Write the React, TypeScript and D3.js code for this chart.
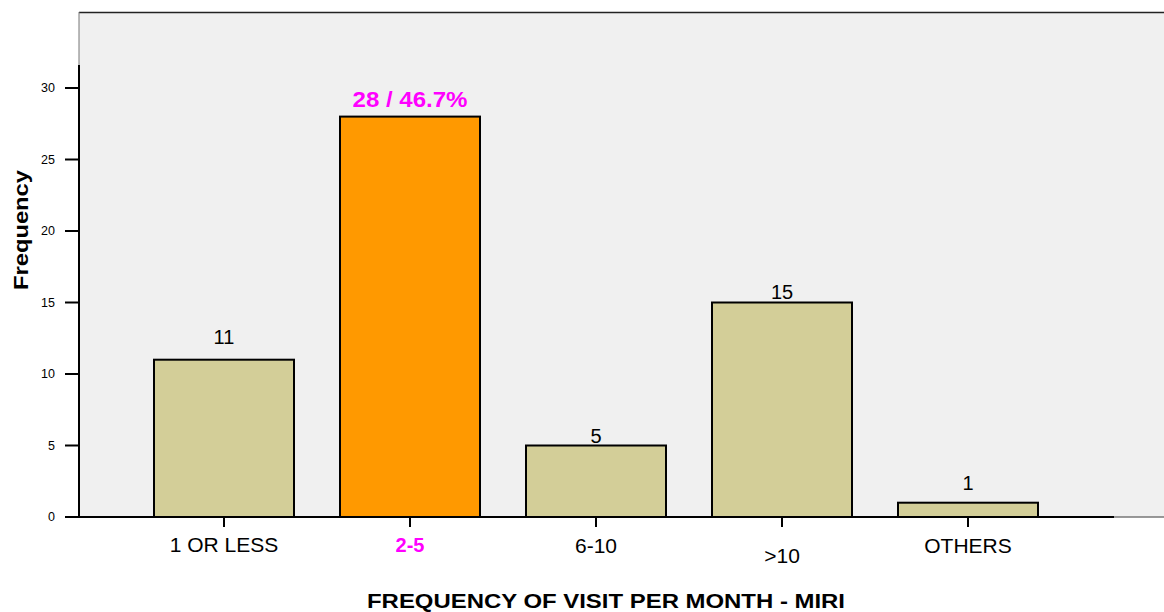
import React from "react";
import * as d3 from "d3";

const categories = ["1 OR LESS", "2-5", "6-10", ">10", "OTHERS"];
const counts = [11, 28, 5, 15, 1];
const valueLabels = ["11", "28 / 46.7%", "5", "15", "1"];
const highlighted = [false, true, false, false, false];
const yTicks = [0, 5, 10, 15, 20, 25, 30];

// layout-only tweaks (as in the original SPSS output)
const valueLabelGap = [16, 10, 2.5, 3.5, 12.5];
const tickLabelDrop = [0, 0, 1, 11, 1];

const W = 1164;
const H = 612;
const plotLeft = 79;
const plotTop = 12;
const zeroY = 517;

export default function App() {
  const y = d3.scaleLinear().domain([0, 30]).range([zeroY, 88]);
  const x = d3
    .scaleBand<string>()
    .domain(categories)
    .range([131, 1061])
    .paddingInner(46 / 186)
    .paddingOuter(23 / 186);
  const bw = x.bandwidth();

  return (
    <svg
      width={W}
      height={H}
      style={{ position: "absolute", left: 0, top: 0, background: "#fff" }}
      fontFamily="'Liberation Sans', Arial, sans-serif"
    >
      <rect x={plotLeft} y={plotTop} width={W - plotLeft} height={zeroY - plotTop} fill="#f0f0f0" />
      <line x1={plotLeft} x2={W} y1={plotTop + 0.5} y2={plotTop + 0.5} stroke="#222" strokeWidth={1.5} />
      <line x1={plotLeft} x2={plotLeft} y1={plotTop} y2={y(31.6)} stroke="#777" strokeWidth={1} />
      <line x1={plotLeft} x2={W} y1={zeroY} y2={zeroY} stroke="#777" strokeWidth={1.5} />

      {categories.map((c, i) => (
        <rect
          key={c}
          x={x(c)!}
          y={y(counts[i])}
          width={bw}
          height={zeroY - y(counts[i])}
          fill={highlighted[i] ? "#ff9900" : "#d3ce98"}
          stroke="#000"
          strokeWidth={2}
        />
      ))}

      {/* y axis */}
      <line x1={plotLeft} x2={plotLeft} y1={y(31.6)} y2={zeroY + 1} stroke="#000" strokeWidth={2} />
      {yTicks.map((t) => (
        <g key={t}>
          <line x1={65} x2={plotLeft} y1={y(t)} y2={y(t)} stroke="#000" strokeWidth={2} />
          <text x={55} y={y(t)} dy="0.35em" textAnchor="end" fontSize={12.5} fill="#000">
            {t}
          </text>
        </g>
      ))}

      {/* x axis */}
      <line x1={plotLeft} x2={1114} y1={zeroY} y2={zeroY} stroke="#000" strokeWidth={2} />
      {categories.map((c, i) => {
        const cx = x(c)! + bw / 2;
        return (
          <g key={c}>
            <line x1={cx} x2={cx} y1={zeroY} y2={zeroY + 10} stroke="#000" strokeWidth={2} />
            <text
              x={cx}
              y={552 + tickLabelDrop[i]}
              textAnchor="middle"
              fontSize={highlighted[i] ? 20 : 21}
              fontWeight={highlighted[i] ? "bold" : "normal"}
              fill={highlighted[i] ? "#ff00ff" : "#000"}
            >
              {c}
            </text>
          </g>
        );
      })}

      {/* value labels */}
      {categories.map((c, i) => {
        const cx = x(c)! + bw / 2;
        return (
          <text
            key={c}
            x={cx}
            y={y(counts[i]) - valueLabelGap[i]}
            textAnchor="middle"
            fontSize={highlighted[i] ? 22 : 20}
            fontWeight={highlighted[i] ? "bold" : "normal"}
            fill={highlighted[i] ? "#ff00ff" : "#000"}
            textLength={highlighted[i] ? 115 : undefined}
            lengthAdjust="spacingAndGlyphs"
          >
            {valueLabels[i]}
          </text>
        );
      })}

      {/* titles */}
      <text
        x={606}
        y={608}
        textAnchor="middle"
        fontSize={20}
        fontWeight="bold"
        fill="#000"
        textLength={478}
        lengthAdjust="spacingAndGlyphs"
      >
        FREQUENCY OF VISIT PER MONTH - MIRI
      </text>
      <text
        transform="translate(28,230) rotate(-90)"
        textAnchor="middle"
        fontSize={20}
        fontWeight="bold"
        fill="#000"
        textLength={120}
        lengthAdjust="spacingAndGlyphs"
      >
        Frequency
      </text>
    </svg>
  );
}
